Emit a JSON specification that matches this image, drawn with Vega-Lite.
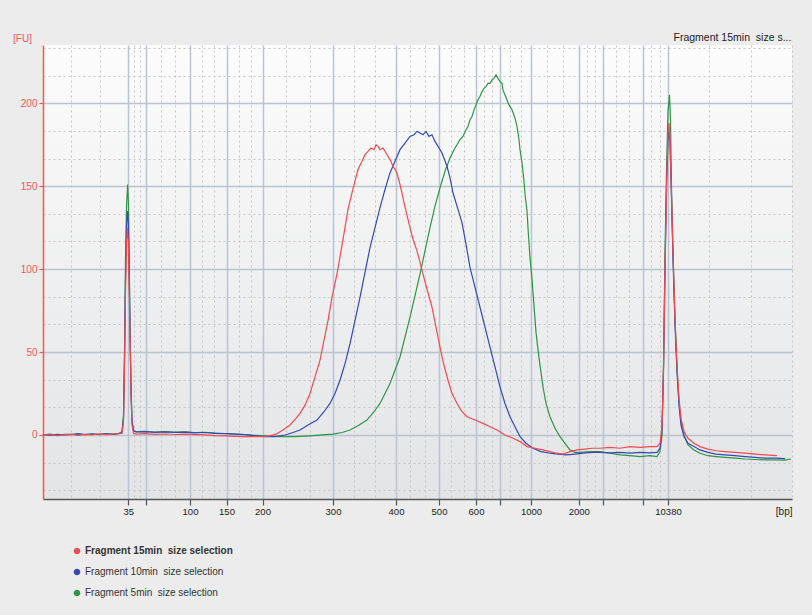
{
  "$schema": "https://vega.github.io/schema/vega-lite/v6.json",
  "autosize": {"type": "none"},
  "width": 749,
  "height": 454,
  "padding": {"left": 43, "top": 45, "right": 20, "bottom": 116},
  "background": "#ececec",
  "config": {
    "font": "Liberation Sans",
    "view": {"stroke": null, "fill": {"gradient": "linear", "x1": 0, "y1": 0, "x2": 0, "y2": 1, "stops": [{"offset": 0, "color": "#fcfcfc"}, {"offset": 1, "color": "#e3e4e6"}]}}
  },
  "title": {"text": "Fragment 15min\u00a0 size s...", "anchor": "end", "fontSize": 10.5, "fontWeight": "normal", "color": "#222222", "offset": -10, "font": "Liberation Sans", "dx": -2},
  "datasets": {
    "red": [
      {"pos":0,"fu":0},{"pos":7,"fu":0.3},{"pos":14,"fu":-0.4},{"pos":21,"fu":0.2},{"pos":28,"fu":0.5},{"pos":35,"fu":-0.3},{"pos":42,"fu":0.4},{"pos":49,"fu":0.1},{"pos":56,"fu":0.6},{"pos":63,"fu":0.2},{"pos":70,"fu":0.5},{"pos":76,"fu":0.8},{"pos":79,"fu":1},{"pos":80.5,"fu":8},{"pos":81.5,"fu":40},{"pos":82.5,"fu":85},{"pos":83.5,"fu":115},{"pos":84.3,"fu":125},{"pos":85.2,"fu":118},{"pos":86,"fu":95},{"pos":87,"fu":60},{"pos":88,"fu":25},{"pos":89,"fu":6},{"pos":90.5,"fu":1},{"pos":93,"fu":0.5},{"pos":102,"fu":0.8},{"pos":112,"fu":0.4},{"pos":122,"fu":0.6},{"pos":132,"fu":0.3},{"pos":142,"fu":0.5},{"pos":152,"fu":0.2},{"pos":162,"fu":0},{"pos":172,"fu":-0.4},{"pos":182,"fu":-0.6},{"pos":192,"fu":-0.8},{"pos":202,"fu":-1},{"pos":212,"fu":-1},{"pos":220,"fu":-1},{"pos":227,"fu":-0.5},{"pos":233,"fu":0.5},{"pos":240,"fu":3},{"pos":247,"fu":6},{"pos":253,"fu":10},{"pos":257,"fu":13},{"pos":262,"fu":18},{"pos":267,"fu":25},{"pos":272,"fu":35},{"pos":277,"fu":45},{"pos":281,"fu":57},{"pos":285,"fu":69},{"pos":289,"fu":83},{"pos":294,"fu":97},{"pos":298,"fu":111},{"pos":302,"fu":125},{"pos":305,"fu":136},{"pos":309,"fu":146},{"pos":312,"fu":153},{"pos":315,"fu":160},{"pos":319,"fu":165},{"pos":322,"fu":169},{"pos":325,"fu":171},{"pos":328,"fu":173},{"pos":331,"fu":172},{"pos":333,"fu":175},{"pos":335,"fu":174},{"pos":337,"fu":172},{"pos":340,"fu":173},{"pos":343,"fu":170},{"pos":347,"fu":166},{"pos":350,"fu":162},{"pos":354,"fu":158},{"pos":357,"fu":151},{"pos":360,"fu":143},{"pos":363,"fu":135},{"pos":367,"fu":125},{"pos":370,"fu":118},{"pos":374,"fu":111},{"pos":377,"fu":104},{"pos":380,"fu":97},{"pos":384,"fu":88},{"pos":389,"fu":77},{"pos":393,"fu":65},{"pos":397,"fu":53},{"pos":401,"fu":42},{"pos":405,"fu":33},{"pos":409,"fu":25},{"pos":414,"fu":19},{"pos":419,"fu":14},{"pos":424,"fu":11},{"pos":432,"fu":9},{"pos":440,"fu":7},{"pos":447,"fu":5},{"pos":454,"fu":3},{"pos":462,"fu":0},{"pos":470,"fu":-2},{"pos":477,"fu":-4},{"pos":484,"fu":-7},{"pos":492,"fu":-8},{"pos":500,"fu":-9},{"pos":507,"fu":-10},{"pos":514,"fu":-11},{"pos":520,"fu":-11.5},{"pos":527,"fu":-10},{"pos":534,"fu":-9},{"pos":542,"fu":-8.5},{"pos":549,"fu":-8},{"pos":557,"fu":-8},{"pos":567,"fu":-7.5},{"pos":577,"fu":-8},{"pos":587,"fu":-7},{"pos":597,"fu":-7.5},{"pos":607,"fu":-7},{"pos":614,"fu":-7},{"pos":617,"fu":-5},{"pos":619,"fu":5},{"pos":620.5,"fu":40},{"pos":622,"fu":100},{"pos":623.5,"fu":150},{"pos":625,"fu":182},{"pos":626,"fu":188},{"pos":627,"fu":178},{"pos":628.5,"fu":145},{"pos":630,"fu":110},{"pos":632,"fu":70},{"pos":634,"fu":42},{"pos":636,"fu":22},{"pos":638,"fu":10},{"pos":641,"fu":2},{"pos":645,"fu":-2},{"pos":651,"fu":-5},{"pos":657,"fu":-7},{"pos":665,"fu":-8.5},{"pos":673,"fu":-9.5},{"pos":682,"fu":-10},{"pos":692,"fu":-10.5},{"pos":702,"fu":-11},{"pos":712,"fu":-11.5},{"pos":722,"fu":-12},{"pos":734,"fu":-12.5}
    ],
    "blue": [
      {"pos":0,"fu":0.2},{"pos":7,"fu":-0.2},{"pos":14,"fu":0.4},{"pos":21,"fu":0},{"pos":28,"fu":0.3},{"pos":35,"fu":0.6},{"pos":42,"fu":0.2},{"pos":49,"fu":0.5},{"pos":56,"fu":0.3},{"pos":63,"fu":0.7},{"pos":70,"fu":0.4},{"pos":76,"fu":0.9},{"pos":79,"fu":1.5},{"pos":80.5,"fu":10},{"pos":81.5,"fu":45},{"pos":82.5,"fu":95},{"pos":83.5,"fu":125},{"pos":84.5,"fu":135},{"pos":85.3,"fu":128},{"pos":86.2,"fu":100},{"pos":87,"fu":65},{"pos":88,"fu":28},{"pos":89,"fu":8},{"pos":90.5,"fu":2.5},{"pos":93,"fu":1.8},{"pos":102,"fu":2},{"pos":112,"fu":1.6},{"pos":122,"fu":1.9},{"pos":132,"fu":1.5},{"pos":142,"fu":1.7},{"pos":152,"fu":1.3},{"pos":162,"fu":1.5},{"pos":172,"fu":1.0},{"pos":182,"fu":0.8},{"pos":192,"fu":0.5},{"pos":202,"fu":0.2},{"pos":212,"fu":-0.5},{"pos":222,"fu":-1},{"pos":232,"fu":-1},{"pos":242,"fu":0},{"pos":250,"fu":1.5},{"pos":257,"fu":3},{"pos":265,"fu":6},{"pos":274,"fu":9},{"pos":281,"fu":14},{"pos":287,"fu":19},{"pos":292,"fu":25},{"pos":297,"fu":33},{"pos":302,"fu":43},{"pos":307,"fu":55},{"pos":312,"fu":69},{"pos":317,"fu":83},{"pos":322,"fu":98},{"pos":327,"fu":113},{"pos":332,"fu":125},{"pos":337,"fu":137},{"pos":342,"fu":148},{"pos":347,"fu":158},{"pos":352,"fu":165},{"pos":357,"fu":172},{"pos":362,"fu":176},{"pos":367,"fu":180},{"pos":371,"fu":181},{"pos":374,"fu":183},{"pos":377,"fu":182},{"pos":380,"fu":181},{"pos":383,"fu":183},{"pos":386,"fu":180},{"pos":389,"fu":181},{"pos":392,"fu":177},{"pos":395,"fu":174},{"pos":399,"fu":170},{"pos":404,"fu":162},{"pos":407,"fu":155},{"pos":410,"fu":146},{"pos":414,"fu":138},{"pos":419,"fu":128},{"pos":423,"fu":115},{"pos":427,"fu":101},{"pos":432,"fu":89},{"pos":437,"fu":77},{"pos":442,"fu":65},{"pos":447,"fu":53},{"pos":452,"fu":41},{"pos":457,"fu":29},{"pos":462,"fu":19},{"pos":467,"fu":11},{"pos":472,"fu":5},{"pos":477,"fu":-1},{"pos":483,"fu":-5},{"pos":490,"fu":-8},{"pos":498,"fu":-10},{"pos":507,"fu":-11},{"pos":515,"fu":-11.5},{"pos":524,"fu":-12},{"pos":532,"fu":-11.5},{"pos":540,"fu":-11},{"pos":549,"fu":-10.5},{"pos":557,"fu":-10.5},{"pos":567,"fu":-10.8},{"pos":577,"fu":-10.5},{"pos":587,"fu":-11},{"pos":597,"fu":-10.5},{"pos":607,"fu":-10.8},{"pos":614,"fu":-10.5},{"pos":617,"fu":-8},{"pos":619,"fu":3},{"pos":620.5,"fu":38},{"pos":622,"fu":98},{"pos":623.5,"fu":148},{"pos":625,"fu":178},{"pos":626,"fu":185},{"pos":627,"fu":176},{"pos":628.5,"fu":142},{"pos":630,"fu":106},{"pos":632,"fu":66},{"pos":634,"fu":38},{"pos":636,"fu":18},{"pos":638,"fu":6},{"pos":641,"fu":-1},{"pos":645,"fu":-5},{"pos":651,"fu":-7},{"pos":657,"fu":-9},{"pos":665,"fu":-10.5},{"pos":673,"fu":-11.5},{"pos":682,"fu":-12},{"pos":692,"fu":-12.5},{"pos":702,"fu":-13},{"pos":712,"fu":-13.5},{"pos":722,"fu":-14},{"pos":732,"fu":-14},{"pos":742,"fu":-14.3}
    ],
    "green": [
      {"pos":0,"fu":0.1},{"pos":7,"fu":0.5},{"pos":14,"fu":-0.1},{"pos":21,"fu":0.4},{"pos":28,"fu":0.2},{"pos":35,"fu":0.7},{"pos":42,"fu":0.3},{"pos":49,"fu":0.6},{"pos":56,"fu":0.2},{"pos":63,"fu":0.8},{"pos":70,"fu":0.5},{"pos":76,"fu":1},{"pos":79,"fu":2},{"pos":80.5,"fu":12},{"pos":81.5,"fu":50},{"pos":82.5,"fu":105},{"pos":83.5,"fu":138},{"pos":84.6,"fu":151},{"pos":85.4,"fu":140},{"pos":86.2,"fu":105},{"pos":87,"fu":68},{"pos":88,"fu":30},{"pos":89,"fu":9},{"pos":90.5,"fu":3},{"pos":93,"fu":2},{"pos":102,"fu":2.2},{"pos":112,"fu":1.8},{"pos":122,"fu":2},{"pos":132,"fu":1.7},{"pos":142,"fu":1.9},{"pos":152,"fu":1.5},{"pos":162,"fu":1.6},{"pos":172,"fu":1.2},{"pos":182,"fu":0.9},{"pos":192,"fu":0.6},{"pos":202,"fu":0.3},{"pos":212,"fu":-0.2},{"pos":222,"fu":-0.6},{"pos":237,"fu":-1},{"pos":252,"fu":-1},{"pos":267,"fu":-0.5},{"pos":279,"fu":0},{"pos":290,"fu":0.5},{"pos":299,"fu":1.5},{"pos":307,"fu":3},{"pos":315,"fu":5.5},{"pos":324,"fu":9},{"pos":331,"fu":14},{"pos":337,"fu":19},{"pos":342,"fu":25},{"pos":347,"fu":31},{"pos":352,"fu":39},{"pos":357,"fu":47},{"pos":362,"fu":59},{"pos":367,"fu":71},{"pos":372,"fu":84},{"pos":377,"fu":97},{"pos":382,"fu":111},{"pos":387,"fu":125},{"pos":392,"fu":138},{"pos":397,"fu":149},{"pos":402,"fu":159},{"pos":407,"fu":167},{"pos":412,"fu":173},{"pos":415,"fu":176},{"pos":417,"fu":178},{"pos":420,"fu":180},{"pos":423,"fu":184},{"pos":425,"fu":186},{"pos":427,"fu":190},{"pos":429,"fu":192},{"pos":431,"fu":196},{"pos":433,"fu":199},{"pos":435,"fu":202},{"pos":437,"fu":204},{"pos":439,"fu":207},{"pos":441,"fu":209},{"pos":443,"fu":210},{"pos":445,"fu":212},{"pos":447,"fu":212},{"pos":449,"fu":214},{"pos":451,"fu":215},{"pos":453,"fu":217},{"pos":455,"fu":215},{"pos":457,"fu":213},{"pos":459,"fu":212},{"pos":460,"fu":208},{"pos":462,"fu":205},{"pos":464,"fu":202},{"pos":466,"fu":199},{"pos":469,"fu":196},{"pos":472,"fu":191},{"pos":474,"fu":186},{"pos":476,"fu":178},{"pos":477,"fu":172},{"pos":479,"fu":164},{"pos":481,"fu":153},{"pos":482,"fu":145},{"pos":484,"fu":135},{"pos":485.5,"fu":120},{"pos":487,"fu":107},{"pos":489,"fu":94},{"pos":491,"fu":78},{"pos":493,"fu":62},{"pos":494.5,"fu":54},{"pos":497,"fu":42},{"pos":500,"fu":29},{"pos":503,"fu":19},{"pos":507,"fu":11},{"pos":512,"fu":4},{"pos":517,"fu":-1},{"pos":522,"fu":-5},{"pos":527,"fu":-9},{"pos":532,"fu":-10.5},{"pos":537,"fu":-10.5},{"pos":547,"fu":-10},{"pos":557,"fu":-10},{"pos":567,"fu":-11},{"pos":577,"fu":-12},{"pos":587,"fu":-12.5},{"pos":597,"fu":-13},{"pos":607,"fu":-12.5},{"pos":614,"fu":-13},{"pos":617,"fu":-10},{"pos":619,"fu":0},{"pos":620.5,"fu":42},{"pos":622,"fu":110},{"pos":623.5,"fu":160},{"pos":625,"fu":195},{"pos":626.5,"fu":205},{"pos":627.5,"fu":190},{"pos":628.5,"fu":150},{"pos":630,"fu":110},{"pos":632,"fu":70},{"pos":634,"fu":40},{"pos":636,"fu":20},{"pos":638,"fu":8},{"pos":641,"fu":0},{"pos":645,"fu":-6},{"pos":651,"fu":-9},{"pos":657,"fu":-11},{"pos":665,"fu":-12.5},{"pos":673,"fu":-13},{"pos":682,"fu":-13.5},{"pos":692,"fu":-14},{"pos":702,"fu":-14.5},{"pos":712,"fu":-14.8},{"pos":722,"fu":-15},{"pos":732,"fu":-15},{"pos":742,"fu":-15.2},{"pos":748,"fu":-14.5}
    ]
  },
  "encoding": {
    "x": {
      "field": "pos", "type": "quantitative",
      "scale": {"domain": [0, 749], "nice": false, "zero": false},
      "axis": {
        "values": [28.4,56.9,85.3,91.2,97.1,103,117.7,132.3,147,159.2,171.3,183.5,195.5,207.5,219.5,243,266.5,290,311,332,353,367.3,381.7,396,408.3,420.7,433,441,449,457,467.3,477.7,488,504,519.9,535.8,543.7,551.7,559.6,572.9,586.2,599.5,608,616.5,625,666.3,707.7,749],
        "labelExpr": "datum.value == 85.3 ? '35' : datum.value == 147 ? '100' : datum.value == 183.5 ? '150' : datum.value == 219.5 ? '200' : datum.value == 290 ? '300' : datum.value == 353 ? '400' : datum.value == 396 ? '500' : datum.value == 433 ? '600' : datum.value == 488 ? '1000' : datum.value == 535.8 ? '2000' : datum.value == 625 ? '10380' : ''",
        "labelFont": "Liberation Sans", "labelFontSize": 9.5, "labelColor": "#222222", "labelPadding": 1, "labelFlush": false, "labelOverlap": false,
        "title": "[bp]", "titleX": 749, "titleY": 7, "titleAlign": "right", "titleAnchor": null, "titleFontWeight": "normal", "titleFontSize": 10, "titleColor": "#222222", "titleFont": "Liberation Sans",
        "domainColor": "#555555", "domainWidth": 1.5,
        "tickColor": "#555555", "tickSize": 6, "tickWidth": 1.2,
        "tickOpacity": {"condition": {"test": "indexof([85.3,103,147,183.5,219.5,290,353,396,433,457,488,535.8,559.6,599.5,625], datum.value) >= 0", "value": 1}, "value": 0},
        "grid": true,
        "gridColor": {"condition": {"test": "indexof([85.3,103,147,183.5,219.5,290,353,396,433,457,488,535.8,559.6,599.5,625], datum.value) >= 0", "value": "#b9c3d1"}, "value": "#c4c4c4"},
        "gridDash": {"condition": {"test": "indexof([85.3,103,147,183.5,219.5,290,353,396,433,457,488,535.8,559.6,599.5,625], datum.value) >= 0", "value": []}, "value": [2, 3]},
        "gridWidth": {"condition": {"test": "indexof([85.3,103,147,183.5,219.5,290,353,396,433,457,488,535.8,559.6,599.5,625], datum.value) >= 0", "value": 1.5}, "value": 1}
      }
    },
    "y": {
      "field": "fu", "type": "quantitative",
      "scale": {"domain": [-38.6, 235.1], "nice": false, "zero": false},
      "axis": {
        "values": [-33.3333,-16.6667,0,16.6667,33.3333,50,66.6667,83.3333,100,116.6667,133.3333,150,166.6667,183.3333,200,216.6667,233.3333],
        "labelExpr": "abs(datum.value % 50) < 0.01 ? format(datum.value, 'd') : ''",
        "labelFont": "Liberation Sans", "labelFontSize": 10, "labelColor": "#f0585d", "labelPadding": 2,
        "title": "[FU]", "titleAngle": 0, "titleX": -21, "titleY": -4, "titleAlign": "center", "titleBaseline": "alphabetic", "titleColor": "#f0585d", "titleFontWeight": "normal", "titleFontSize": 10, "titleFont": "Liberation Sans",
        "domainColor": "#f0585d", "domainWidth": 1.5,
        "tickColor": "#f0585d", "tickSize": 4, "tickWidth": 1.2,
        "tickOpacity": {"condition": {"test": "abs(datum.value % 50) < 0.01", "value": 1}, "value": 0},
        "grid": true,
        "gridColor": {"condition": {"test": "abs(datum.value % 50) < 0.01", "value": "#b9c3d1"}, "value": "#c4c4c4"},
        "gridDash": {"condition": {"test": "abs(datum.value % 50) < 0.01", "value": []}, "value": [2, 3]},
        "gridWidth": {"condition": {"test": "abs(datum.value % 50) < 0.01", "value": 1.5}, "value": 1}
      }
    }
  },
  "layer": [
    {
      "data": {"name": "green"},
      "mark": {"type": "line", "strokeWidth": 1.2},
      "encoding": {
        "color": {
          "datum": "Fragment 5min\u00a0 size selection", "type": "nominal",
          "scale": {"domain": ["Fragment 15min\u00a0 size selection", "Fragment 10min\u00a0 size selection", "Fragment 5min\u00a0 size selection"], "range": ["#ef4b50", "#3549b4", "#2f9446"]},
          "legend": {
            "title": null, "orient": "none", "legendX": 29, "legendY": 501, "padding": 0,
            "symbolType": "circle", "symbolSize": 12, "symbolStrokeWidth": 3.2,
            "labelFont": "Liberation Sans", "labelFontSize": 10, "labelColor": "#333333", "labelOffset": 3, "rowPadding": 3,
            "encode": {"labels": {"update": {"fontWeight": {"signal": "indexof(datum.value, '15min') >= 0 ? 'bold' : 'normal'"}}}}
          }
        }
      }
    },
    {
      "data": {"name": "blue"},
      "mark": {"type": "line", "strokeWidth": 1.2},
      "encoding": {"color": {"datum": "Fragment 10min\u00a0 size selection", "type": "nominal"}}
    },
    {
      "data": {"name": "red"},
      "mark": {"type": "line", "strokeWidth": 1.2},
      "encoding": {"color": {"datum": "Fragment 15min\u00a0 size selection", "type": "nominal"}}
    }
  ]
}
